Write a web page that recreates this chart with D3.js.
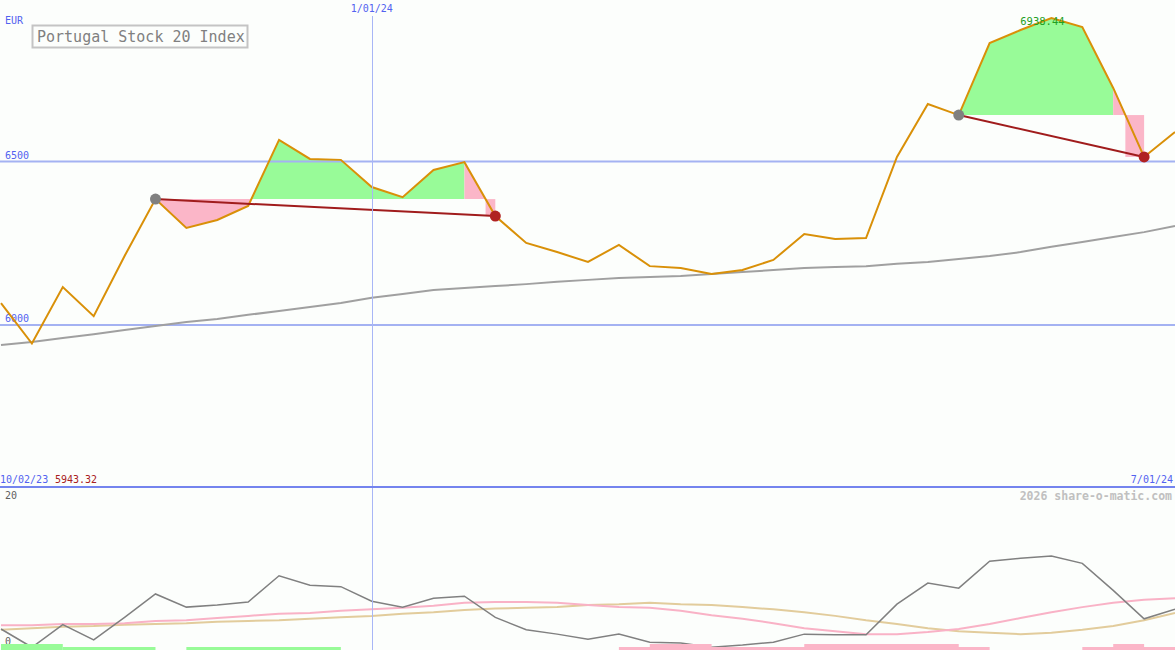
<!DOCTYPE html>
<html><head><meta charset="utf-8">
<script src="https://cdn.jsdelivr.net/npm/d3@7"></script>
<style>
html,body{margin:0;padding:0;background:#fcfefc;overflow:hidden}
svg{display:block}
text{font-family:"DejaVu Sans Mono",monospace}
</style></head><body><svg id="c" width="1175" height="650"></svg>
<script>
const weeks = ["2023-10-09","2023-10-16","2023-10-23","2023-10-30","2023-11-06","2023-11-13","2023-11-20","2023-11-27","2023-12-04","2023-12-11","2023-12-18","2023-12-25","2024-01-01","2024-01-08","2024-01-15","2024-01-22","2024-01-29","2024-02-05","2024-02-12","2024-02-19","2024-02-26","2024-03-04","2024-03-11","2024-03-18","2024-03-25","2024-04-01","2024-04-08","2024-04-15","2024-04-22","2024-04-29","2024-05-06","2024-05-13","2024-05-20","2024-05-27","2024-06-03","2024-06-10","2024-06-17","2024-06-24","2024-07-01"];
const price = [6067,5943.32,6116,6027,6211,6385,6297,6321,6364,6566,6508,6505,6422,6391,6474,6498,6333,6251,6223,6193,6245,6180,6174,6156,6168,6199,6278,6263,6266,6514,6676,6642,6862,6902,6938.44,6911,6725,6514,6590];
const movingAvg = [5939,5948,5960,5972,5985,5997,6009,6018,6031,6043,6055,6067,6083,6095,6107,6113,6119,6125,6132,6138,6144,6147,6150,6156,6162,6168,6174,6177,6180,6187,6193,6202,6211,6223,6239,6254,6269,6284,6303];
const oscGray = [2.6,0.1,3.2,1.1,4.2,7.4,5.6,5.9,6.3,9.9,8.6,8.4,6.4,5.6,6.8,7.1,4.2,2.5,1.9,1.2,1.9,0.8,0.7,0.1,0.4,0.8,1.9,1.8,1.8,6.0,8.9,8.2,11.9,12.3,12.6,11.6,7.9,4.0,5.3];
const oscPink = [3.1,3.1,3.3,3.3,3.4,3.7,3.8,4.1,4.4,4.7,4.8,5.1,5.3,5.5,5.8,6.2,6.3,6.3,6.2,5.9,5.6,5.5,5.1,4.5,4.0,3.4,2.7,2.3,1.9,1.9,2.2,2.6,3.3,4.1,4.9,5.6,6.2,6.6,6.8];
const oscTan = [2.5,2.7,2.9,3.0,3.2,3.3,3.4,3.6,3.7,3.8,4.0,4.2,4.4,4.7,4.9,5.2,5.4,5.5,5.6,5.9,6.0,6.2,6.0,5.9,5.6,5.3,4.9,4.4,3.8,3.3,2.7,2.3,2.1,1.9,2.1,2.5,3.0,3.8,4.8];
const tradeEntry = [5, 31];
const tradeExit = [16, 37];
const priceTicks = [6000, 6500];
const oscTicks = [0, 20];
const greenThick = [[0,2]];
const greenThin = [[2,5],[6,11]];
const pinkThin = [[20,32],[35,38]];
const pinkThick = [[21,23],[26,31],[36,37]];
const title = "Portugal Stock 20 Index";
const maxLabel = "6938.44", minLabel = "5943.32";

(function(){
const W = 1175, H = 650, divY = 487;
const parse = d3.timeParse("%Y-%m-%d");
const dates = weeks.map(parse);
const svg = d3.select("#c");
svg.append("rect").attr("width",W).attr("height",H).attr("fill","#fcfefc");

const x = d3.scaleTime().domain([dates[0], dates[dates.length-1]]).range([1, 1175]);
const y = d3.scaleLinear().domain([6000, 6500]).range([325, 161.5]);
const yl = d3.scaleLinear().domain([0, 20]).range([648, 502]);
const X = i => x(dates[i]);

const defs = svg.append("defs");
defs.append("clipPath").attr("id","clipTop").append("rect").attr("x",0).attr("y",0).attr("width",W).attr("height",divY);
defs.append("clipPath").attr("id","clipBot").append("rect").attr("x",0).attr("y",divY+1).attr("width",W).attr("height",H-divY);

const gTop = svg.append("g").attr("clip-path","url(#clipTop)");
const gBot = svg.append("g").attr("clip-path","url(#clipBot)");

// trade fills
tradeEntry.forEach((e, k) => {
  const xe = tradeExit[k];
  const L = price[e];
  const yL = y(L);
  const idx = d3.range(e, xe);
  const area = d3.area().x(i => X(i)).y0(yL).y1(i => y(price[i]));
  const gid = "cg"+k, pid = "cp"+k;
  defs.append("clipPath").attr("id",gid).append("rect").attr("x",0).attr("y",0).attr("width",W).attr("height",yL);
  defs.append("clipPath").attr("id",pid).append("rect").attr("x",0).attr("y",yL).attr("width",W).attr("height",divY-yL);
  gTop.append("path").attr("d",area(idx)).attr("fill","#98fb98").attr("clip-path",`url(#${gid})`);
  gTop.append("path").attr("d",area(idx)).attr("fill","#fbb6c8").attr("clip-path",`url(#${pid})`);
  const i = xe-1, j = xe;
  const pi = price[i], pj = price[j];
  if (pi > L && pj < L) {
    const t = (pi - L)/(pi - pj);
    const xc = X(i) + t*(X(j)-X(i));
    gTop.append("path").attr("d", d3.line()([[X(i), yL],[X(i), y(pi)],[xc, yL]])+"Z").attr("fill","#fbb6c8");
    gTop.append("rect").attr("x",xc).attr("y",yL).attr("width",X(j)-xc).attr("height",y(pj)-yL).attr("fill","#fbb6c8");
  } else {
    gTop.append("path").attr("d",area([i,j])).attr("fill","#fbb6c8");
  }
});

// grid lines
priceTicks.forEach(v => {
  gTop.append("line").attr("x1",0).attr("x2",W).attr("y1",y(v)).attr("y2",y(v)).attr("stroke","#a4b2f2").attr("stroke-width",2);
  gTop.append("text").attr("x",5).attr("y",y(v)-3).attr("fill","#5262f0").attr("font-size",10).text(v);
});
const jan = parse("2024-01-01");
svg.append("line").attr("x1",Math.round(x(jan))+0.5).attr("x2",Math.round(x(jan))+0.5).attr("y1",16).attr("y2",H).attr("stroke","#a8b6f6").attr("stroke-width",1);

// moving average
gTop.append("path").attr("d", d3.line().x((d,i)=>X(i)).y(d=>y(d))(movingAvg)).attr("fill","none").attr("stroke","#a0a0a0").attr("stroke-width",2);
// price
gTop.append("path").attr("d", d3.line().x((d,i)=>X(i)).y(d=>y(d))(price)).attr("fill","none").attr("stroke","#d99008").attr("stroke-width",2);
// trades
tradeEntry.forEach((e,k) => {
  const xe = tradeExit[k];
  gTop.append("line").attr("x1",X(e)).attr("y1",y(price[e])).attr("x2",X(xe)).attr("y2",y(price[xe])).attr("stroke","#a01c1c").attr("stroke-width",2);
  gTop.append("circle").attr("cx",X(e)).attr("cy",y(price[e])).attr("r",5.5).attr("fill","#808080");
  gTop.append("circle").attr("cx",X(xe)).attr("cy",y(price[xe])).attr("r",5.5).attr("fill","#b02222");
});

// labels top
svg.append("text").attr("x",5).attr("y",24).attr("fill","#5262f0").attr("font-size",10).text("EUR");
svg.append("text").attr("x",x(jan)).attr("y",12).attr("text-anchor","middle").attr("fill","#5262f0").attr("font-size",10).text(d3.timeFormat("%-m/%d/%y")(jan));
svg.append("rect").attr("x",32.5).attr("y",25.5).attr("width",215).attr("height",22).attr("fill","#fcfefc").attr("stroke","#c4c4c4").attr("stroke-width",2);
svg.append("text").attr("x",37).attr("y",41.5).attr("fill","#808080").attr("font-size",15).text(title);
const imax = price.indexOf(d3.max(price));
svg.append("text").attr("x",X(imax)-9).attr("y",25).attr("text-anchor","middle").attr("fill","#22a022").attr("font-size",10.5).text(maxLabel);

// divider
svg.append("line").attr("x1",0).attr("x2",W).attr("y1",divY).attr("y2",divY).attr("stroke","#7484ee").attr("stroke-width",2);
svg.append("text").attr("x",0).attr("y",483).attr("fill","#5262f0").attr("font-size",10).text("10/02/23");
svg.append("text").attr("x",55).attr("y",483).attr("fill","#a82020").attr("font-size",10).text(minLabel);
svg.append("text").attr("x",1173).attr("y",483).attr("text-anchor","end").attr("fill","#5262f0").attr("font-size",10).text(d3.timeFormat("%-m/%d/%y")(dates[dates.length-1]));
svg.append("text").attr("x",1172).attr("y",500).attr("text-anchor","end").attr("fill","#c0c0c0").attr("font-size",11.5).attr("font-weight","bold").text("2026 share-o-matic.com");

// lower panel
oscTicks.forEach(v => {
  gBot.append("text").attr("x",5).attr("y",yl(v)-3).attr("fill","#606060").attr("font-size",10).text(v);
});
const lowLine = d3.line().x((d,i)=>X(i)).y(d=>yl(d));
gBot.append("path").attr("d",lowLine(oscTan)).attr("fill","none").attr("stroke","#e2cc9c").attr("stroke-width",2);
gBot.append("path").attr("d",lowLine(oscPink)).attr("fill","none").attr("stroke","#f9b2c6").attr("stroke-width",2);
gBot.append("path").attr("d",lowLine(oscGray)).attr("fill","none").attr("stroke","#808080").attr("stroke-width",1.5);
const bars = (arr, col, h) => arr.forEach(([a,b]) => {
  gBot.append("rect").attr("x",X(a)).attr("y",H-h).attr("width",X(b)-X(a)).attr("height",h).attr("fill",col);
});
bars(greenThin,"#98fb98",3); bars(greenThick,"#98fb98",6);
bars(pinkThin,"#fbb6c8",3); bars(pinkThick,"#fbb6c8",6);
})();
</script></body></html>
